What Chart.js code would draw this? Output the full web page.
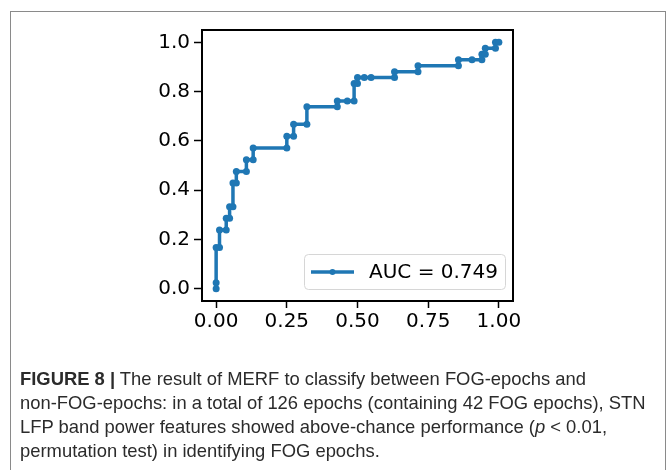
<!DOCTYPE html>
<html>
<head>
<meta charset="utf-8">
<script src="https://cdn.jsdelivr.net/npm/chart.js@4"></script>
<style>
  html, body { margin: 0; padding: 0; background: #fff; }
  #wrap { position: relative; width: 672px; height: 470px; overflow: hidden; }
  #frame { position: absolute; left: 10px; top: 11px; width: 656px; height: 480px;
           border: 1.5px solid #8a8a8a; box-sizing: border-box; }
  #chartBox { position: absolute; left: 0; top: 0; width: 672px; height: 470px; }
  #caption { position: absolute; left: 20px; top: 367px; width: 648px;
             font-family: "Liberation Sans", Arial, sans-serif; font-size: 18.4px;
             line-height: 24px; color: #2b2b2b; }
  #caption b { font-weight: bold; }
</style>
</head>
<body>
<div id="wrap">
  <div id="frame"></div>
  <div id="chartBox"><canvas id="roc_chart" width="672" height="470"></canvas></div>
  <div id="caption"><b>FIGURE 8 |</b> The result of MERF to classify between FOG-epochs and<br>non-FOG-epochs: in a total of 126 epochs (containing 42 FOG epochs), STN<br>LFP band power features showed above-chance performance (<i>p</i> &lt; 0.01,<br>permutation test) in identifying FOG epochs.</div>
</div>
<script>
// ROC curve points (false positive rate / true positive rate)
var fpr = [0, 0, 0, 0.0119, 0.0119, 0.0357, 0.0357, 0.0476, 0.0476, 0.0595, 0.0595,
  0.0714, 0.0714, 0.107, 0.107, 0.131, 0.131, 0.25, 0.25, 0.274, 0.274, 0.321, 0.321,
  0.4286, 0.4286, 0.464, 0.488, 0.488, 0.5, 0.5, 0.524, 0.548, 0.631, 0.631, 0.714, 0.714,
  0.857, 0.857, 0.905, 0.94, 0.94, 0.952, 0.952, 0.988, 0.988, 1.0];
var tpr = [0, 0.024, 0.1667, 0.1667, 0.238, 0.238, 0.2857, 0.2857, 0.333, 0.333, 0.4286,
  0.4286, 0.476, 0.476, 0.5238, 0.5238, 0.571, 0.571, 0.619, 0.619, 0.667, 0.667, 0.738,
  0.738, 0.762, 0.762, 0.762, 0.833, 0.833, 0.857, 0.857, 0.857, 0.857, 0.881, 0.881, 0.905,
  0.905, 0.929, 0.929, 0.929, 0.952, 0.952, 0.976, 0.976, 1.0, 1.0];
var aucLabel = 'AUC = 0.749';
var xTicks = [0, 0.25, 0.5, 0.75, 1.0];
var yTicks = [0, 0.2, 0.4, 0.6, 0.8, 1.0];

var blue = '#1f77b4';
var tickFont = { family: 'DejaVu Sans', size: 20 };

var points = fpr.map(function (x, i) { return { x: x, y: tpr[i] }; });

// black box round the plot area + legend in the lower right corner
var frameAndLegend = {
  id: 'frameAndLegend',
  afterDraw: function (chart) {
    var c = chart.ctx, a = chart.chartArea;
    c.save();
    c.strokeStyle = '#000';
    c.lineWidth = 2;
    c.strokeRect(a.left, a.top, a.right - a.left, a.bottom - a.top);

    var bx = 304.5, by = 254.5, bw = 201, bh = 35, r = 4;
    c.beginPath();
    c.moveTo(bx + r, by);
    c.arcTo(bx + bw, by, bx + bw, by + bh, r);
    c.arcTo(bx + bw, by + bh, bx, by + bh, r);
    c.arcTo(bx, by + bh, bx, by, r);
    c.arcTo(bx, by, bx + bw, by, r);
    c.closePath();
    c.fillStyle = 'rgba(255,255,255,0.8)';
    c.fill();
    c.strokeStyle = '#d6d6d6';
    c.lineWidth = 1;
    c.stroke();

    var ly = by + bh / 2;
    c.strokeStyle = blue;
    c.lineWidth = 3.5;
    c.beginPath();
    c.moveTo(311, ly);
    c.lineTo(354, ly);
    c.stroke();
    c.fillStyle = blue;
    c.beginPath();
    c.arc(332.5, ly, 3, 0, Math.PI * 2);
    c.fill();

    c.fillStyle = '#000';
    c.font = '20px "DejaVu Sans"';
    c.textBaseline = 'middle';
    c.fillText(chart.data.datasets[0].label, 369, ly + 1);
    c.restore();
  }
};

var ctx = document.getElementById('roc_chart');
var rocchart = new Chart(ctx, {
  type: 'scatter',
  data: {
    datasets: [{
      label: aucLabel,
      data: points,
      showLine: true,
      borderColor: blue,
      backgroundColor: blue,
      borderWidth: 3.5,
      pointRadius: 3.5,
      pointHoverRadius: 3.5,
      pointBorderWidth: 0,
      tension: 0
    }]
  },
  options: {
    responsive: false,
    animation: false,
    events: [],
    layout: { padding: { left: 0, top: 30, right: 159, bottom: 0 } },
    plugins: {
      legend: { display: false },
      tooltip: { enabled: false }
    },
    scales: {
      x: {
        type: 'linear',
        min: -0.05,
        max: 1.05,
        afterBuildTicks: function (s) { s.ticks = xTicks.map(function (v) { return { value: v }; }); },
        afterFit: function (s) { s.height = 169; },
        ticks: {
          font: tickFont,
          color: '#000',
          padding: 2,
          maxRotation: 0,
          callback: function (v) { return v.toFixed(2); }
        },
        grid: { drawOnChartArea: false, tickLength: 7, tickWidth: 1.5, tickColor: '#000' },
        border: { color: '#000', width: 2 }
      },
      y: {
        type: 'linear',
        min: -0.05,
        max: 1.05,
        afterBuildTicks: function (s) { s.ticks = yTicks.map(function (v) { return { value: v }; }); },
        afterFit: function (s) { s.width = 202; },
        ticks: {
          font: tickFont,
          color: '#000',
          padding: 4,
          callback: function (v) { return v.toFixed(1); }
        },
        grid: { drawOnChartArea: false, tickLength: 8, tickWidth: 1.5, tickColor: '#000' },
        border: { color: '#000', width: 2 }
      }
    }
  },
  plugins: [frameAndLegend]
});
</script>
</body>
</html>
